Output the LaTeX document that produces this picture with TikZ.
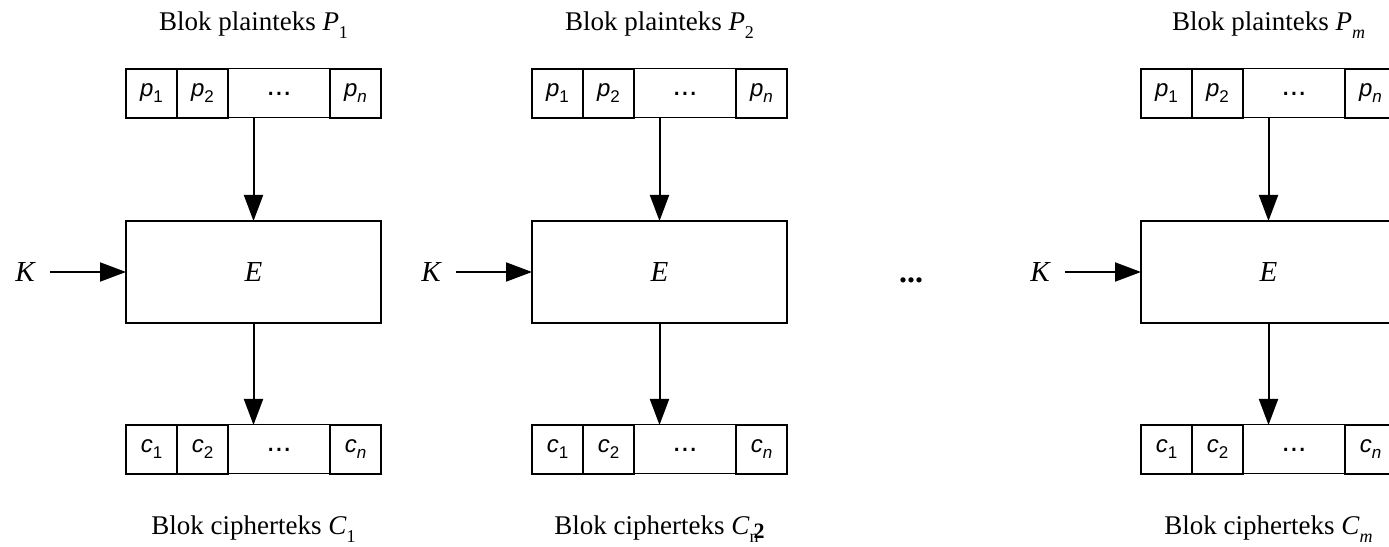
\documentclass[tikz,border=0pt]{standalone}
\usepackage{fontspec}
\setmainfont{Liberation Serif}
\setsansfont{Liberation Sans}
\usetikzlibrary{positioning,arrows.meta}

\newcommand{\lsub}[1]{\raisebox{-8pt}{\fontsize{18}{18}\selectfont #1}}
\newcommand{\csub}[1]{\raisebox{-6pt}{\fontsize{17}{17}\selectfont #1}}

\tikzset{
  cell/.style={draw, line width=2pt, outer sep=0pt, minimum height=49pt, inner sep=0pt,
    font=\sffamily\fontsize{24}{24}\selectfont},
  small/.style={cell, minimum width=51pt},
  wide/.style={cell, line width=1pt, minimum width=102pt, font=\sffamily\fontsize{30}{30}\selectfont},
  enc/.style={draw, line width=2pt, outer sep=0pt, minimum width=255pt, minimum height=102pt,
    font=\fontsize{29}{29}\selectfont\itshape},
  key/.style={inner xsep=15pt, font=\fontsize{29}{29}\selectfont\itshape},
  blok/.style={anchor=base, font=\fontsize{27}{27}\selectfont},
  flow/.style={-{Triangle[length=26pt,width=19pt]}, line width=2pt},
}

\begin{document}
\begin{tikzpicture}[x=1pt,y=1pt]
  \useasboundingbox (0,0) rectangle (1389,546);
  \foreach \i/\o/\ps/\cs in {1/126/1/1,
      2/532/2/{\rlap{n}\hspace{4pt}\raisebox{4pt}{\fontsize{22}{22}\selectfont\textbf{2}}},
      m/1141/\textit{m}/\textit{m}}{
    % plainteks
    \node[blok] (lp\i) at (\o+127.5,515) {Blok plainteks \textit{P}\lsub{\ps}};
    \node[small] (pa\i) at (\o+25.5,452.5) {\textit{p}\csub{1}};
    \node[small, right=0pt of pa\i] (pb\i) {\textit{p}\csub{2}};
    \node[wide, right=0pt of pb\i] (pd\i) {...};
    \node[small, right=0pt of pd\i] (pn\i) {\textit{p}\csub{\textit{n}}};
    % enkripsi
    \node[enc] (E\i) at (\o+127.5,274) {E};
    \node[key] (K\i) at (\o-101,274) {K};
    % cipherteks
    \node[small] (ca\i) at (\o+25.5,96.5) {\textit{c}\csub{1}};
    \node[small, right=0pt of ca\i] (cb\i) {\textit{c}\csub{2}};
    \node[wide, right=0pt of cb\i] (cd\i) {...};
    \node[small, right=0pt of cd\i] (cn\i) {\textit{c}\csub{\textit{n}}};
    \node[blok] (lc\i) at (\o+127.5,12) {Blok cipherteks \textit{C}\lsub{\cs}};
    \draw[flow] (E\i.north |- pd\i.south) -- (E\i.north);
    \draw[flow] (E\i.south) -- (E\i.south |- cd\i.north);
    \draw[flow] (K\i) -- (E\i.west);
  }
  \node[font=\fontsize{32}{32}\selectfont\bfseries] (gap) at (911,266) {...};
\end{tikzpicture}
\end{document}
